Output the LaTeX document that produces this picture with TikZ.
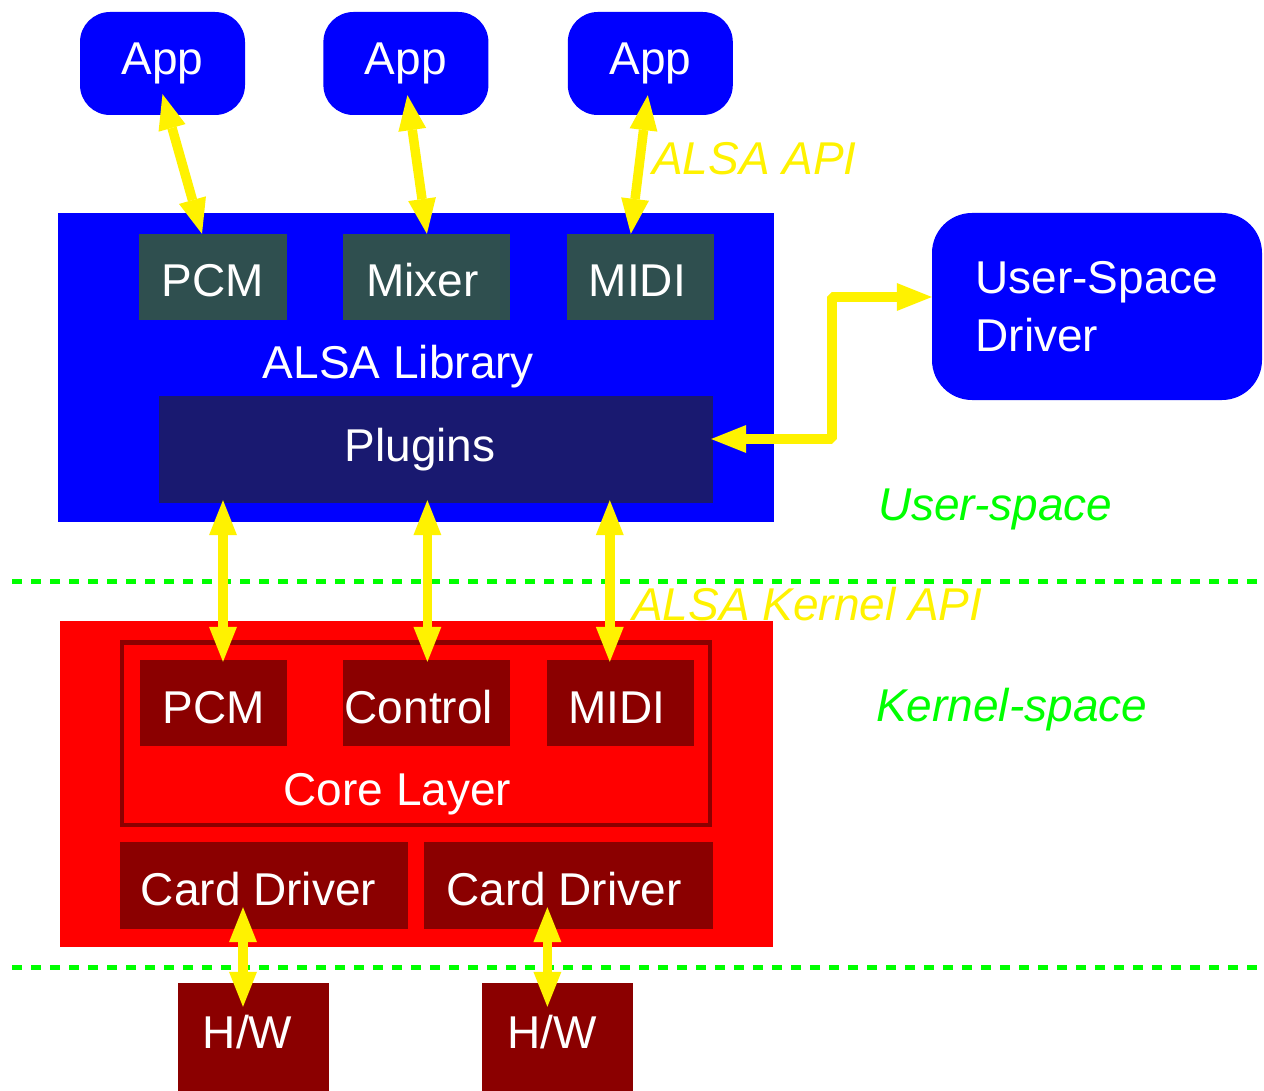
\documentclass[tikz,border=0pt]{standalone}
\usepackage{fontspec}
\setmainfont{Liberation Sans}
\usetikzlibrary{positioning,arrows.meta,calc}

\definecolor{slate}{RGB}{47,79,79}
\definecolor{midnight}{RGB}{25,25,112}
\definecolor{darkred}{RGB}{139,0,0}
\definecolor{lime}{RGB}{0,255,0}

\begin{document}
\begin{tikzpicture}[x=1pt,y=-1pt,
    every node/.style={font=\fontsize{46}{58}\selectfont,inner sep=0pt},
    app/.style={fill=blue,text=white,rounded corners=30pt,minimum width=165pt,minimum height=103pt},
    unit/.style={fill=slate,text=white,minimum height=86pt,text height=40pt,text depth=0pt},
    kunit/.style={unit,fill=darkred},
    % moves the text of a box left by half the given amount
    nudge/.style={execute at begin node={\hspace*{-#1}}},
    tag/.style={anchor=base west,font=\fontsize{46}{58}\selectfont\itshape},
    conn/.style={yellow,line width=9.5pt,line join=bevel,
      {Triangle[length=35pt,width=28pt,line width=0pt]}-{Triangle[length=35pt,width=28pt,line width=0pt]}},
    sepline/.style={lime,line width=5pt,dash pattern=on 10pt off 9pt}
    ]

  \useasboundingbox (0,0) rectangle (1264,1091);

  % user space
  \node(alsalib) [fill=blue,minimum width=716pt,minimum height=309pt] at (416,367.5) {};
  \node(libname) [anchor=base,text=white] at (398.5,378) {ALSA Library};

  \node(app1) [app] at (162.5,63.5) {App};
  \node(app2) [app,right=78pt of app1] {App};
  \node(app3) [app,right=79pt of app2] {App};

  \node(pcm) [unit,minimum width=148pt] at (213,277) {PCM};
  \node(mixer) [unit,nudge=9pt,minimum width=167pt,right=56pt of pcm] {Mixer};
  \node(midi) [unit,nudge=6pt,minimum width=147pt,right=56pt of mixer] {MIDI};

  \node(plugins) [fill=midnight,text=white,nudge=32pt,minimum width=554pt,minimum height=107pt] at (436,449.5) {Plugins};
  \node(usdriver) [app,align=left,rounded corners=40pt,minimum width=330pt,minimum height=187pt] at (1097,306.5) {User-Space\\Driver};

  % kernel space
  \node(kernel) [fill=red,minimum width=713pt,minimum height=326pt] at (416.5,784) {};
  \node(core) [draw=darkred,line width=4.5pt,minimum width=588pt,minimum height=182.5pt] at (416,733.75) {};
  \node(corename) [anchor=base,text=white] at (397.5,805) {Core Layer};

  \node(kpcm) [kunit,minimum width=147pt] at (213.5,703) {PCM};
  \node(control) [kunit,nudge=16pt,minimum width=167pt,right=56pt of kpcm] {Control};
  \node(kmidi) [kunit,nudge=7pt,minimum width=147pt,right=36pt of control] {MIDI};

  \node(card1) [kunit,nudge=11pt,minimum width=288pt,minimum height=87pt] at (264,885.5) {Card Driver};
  \node(card2) [kunit,nudge=10pt,minimum width=289pt,minimum height=87pt,right=16pt of card1] {Card Driver};

  \node(hw1) [kunit,nudge=12pt,minimum width=151pt,minimum height=116pt,text height=33pt,text depth=19pt] at (253.5,1041) {H/W};
  \node(hw2) [kunit,nudge=12pt,minimum width=151pt,minimum height=116pt,text height=33pt,text depth=19pt,right=153pt of hw1] {H/W};

  % boundaries
  \draw[sepline] (12,581) -- (1262,581);
  \draw[sepline] (12,967) -- (1262,967);

  % API calls
  \draw[conn] ([yshift=21pt]app1.south) -- ([xshift=-11pt]pcm.north);
  \draw[conn] ([xshift=1.5pt,yshift=20pt]app2.south) -- (mixer.north);
  \draw[conn] ([xshift=-2.5pt,yshift=20pt]app3.south) -- ([xshift=-9.5pt]midi.north);
  \draw[conn] ([xshift=-2pt,yshift=10.5pt]plugins.east) -- ++(121,0) |- ([yshift=9.5pt]usdriver.west);

  \draw[conn] ($(plugins.south -| kpcm.north)+(9.5,-3)$) -- ([xshift=9.5pt,yshift=-2pt]kpcm.north);
  \draw[conn] ($(plugins.south -| control.north)+(0.5,-3)$) -- ([xshift=0.5pt,yshift=-2pt]control.north);
  \draw[conn] ($(plugins.south -| kmidi.north)+(-10.5,-3)$) -- ([xshift=-10.5pt,yshift=-2pt]kmidi.north);

  \draw[conn] ([xshift=-21pt,yshift=22pt]card1.south) -- ([xshift=-10.5pt,yshift=-24pt]hw1.north);
  \draw[conn] ([xshift=-21.5pt,yshift=22pt]card2.south) -- ([xshift=-10.5pt,yshift=-24pt]hw2.north);

  \node(apilabel) [tag,text=yellow] at (652,175) {ALSA API};
  \node(kapilabel) [tag,text=yellow] at (632,620) {ALSA Kernel API};
  \node(userspace) [tag,text=lime] at (878,520) {User-space};
  \node(kernelspace) [tag,text=lime] at (876,721) {Kernel-space};

\end{tikzpicture}
\end{document}
